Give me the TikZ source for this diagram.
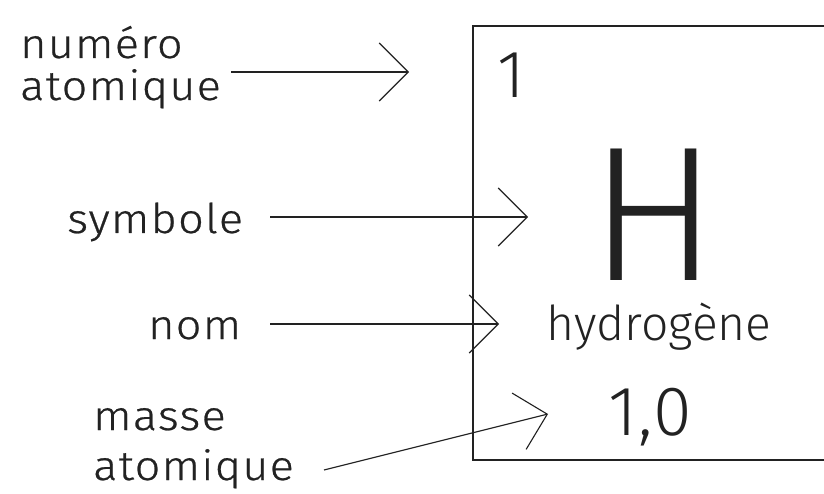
\documentclass[tikz,border=0pt]{standalone}
\usepackage{fontspec}
\setmainfont{Fira Sans Light}
\newfontfamily\labfont{Fira Sans Light}[FakeStretch=1.1, LetterSpace=3, FakeBold=0.6]
\newfontfamily\cellfont{Fira Sans Light}[LetterSpace=2]
\usetikzlibrary{arrows.meta}
\definecolor{ink}{HTML}{222222}
\begin{document}
\begin{tikzpicture}[x=1pt,y=-1pt,
  lab/.style={anchor=base west, inner sep=0pt, text=ink, font=\labfont\fontsize{41}{41}\selectfont},
  cell/.style={anchor=base, inner sep=0pt, text=ink},
  conn/.style={draw=ink, line width=1.1pt, -{Straight Barb[length=29pt,width=58pt]}}]
\useasboundingbox (0,0) rectangle (824,494);
\clip (0,0) rectangle (824,494);
\fill[white] (0,0) rectangle (824,494);
% labels
\node[lab] (num1) at (20,58) {numéro};
\node[lab] (num2) at (20,100) {atomique};
\node[lab] (sym) at (67,233) {symbole};
\node[lab] (nom) at (148,339) {nom};
\node[lab] (mas1) at (93,430) {masse};
\node[lab] (mas2) at (93,480) {atomique};
% cell contents
\node[anchor=base west, inner sep=0pt, text=ink, font=\fontsize{67}{67}\selectfont] (z) at (497,98) {1};
\node[cell, font=\fontsize{192}{192}\selectfont] (H) at (654,280) {H};
\node[cell, font=\fontsize{48}{48}\selectfont] (name) at (659,340) {hydrogène};
\node[cell, font=\cellfont\fontsize{70}{70}\selectfont] (mass) at (650,435) {1,0};
% connector ends
\coordinate (a1s) at (231,72);  \coordinate (a1e) at (409,72);
\coordinate (a2s) at (270,217); \coordinate (a2e) at (528,217);
\coordinate (a3s) at (270,324); \coordinate (a3e) at (499,324);
\coordinate (a4s) at (324,470); \coordinate (a4e) at (548,414);
\draw[conn] (a1s) -- (a1e);
\draw[conn] (a2s) -- (a2e);
\draw[conn] (a3s) -- (a3e);
\draw[conn] (a4s) -- (a4e);
% cell frame
\draw[ink, line width=2pt] (473,26) rectangle (840,460);
\end{tikzpicture}
\end{document}
